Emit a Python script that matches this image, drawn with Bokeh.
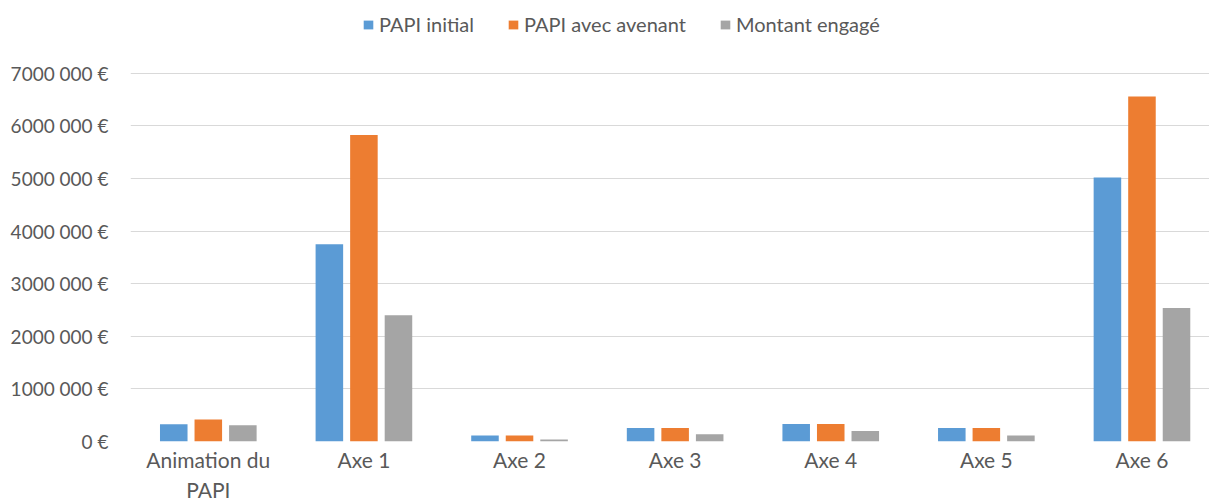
from bokeh.plotting import figure
from bokeh.models import Range1d, FixedTicker, Legend, LegendItem, ColumnDataSource
from bokeh.transform import dodge
from bokeh.embed import file_html
from bokeh.resources import INLINE

categories = ["Animation du\nPAPI", "Axe 1", "Axe 2", "Axe 3", "Axe 4", "Axe 5", "Axe 6"]
papi_initial = [330000, 3750000, 115000, 256000, 333000, 256000, 5020000]
papi_avenant = [417000, 5830000, 115000, 256000, 333000, 256000, 6560000]
montant_engage = [308000, 2400000, 40000, 140000, 200000, 115000, 2540000]
series_names = ["PAPI initial", "PAPI avec avenant", "Montant engagé"]
colors = ["#5B9BD5", "#ED7D31", "#A5A5A5"]
y_ticks = [0, 1000000, 2000000, 3000000, 4000000, 5000000, 6000000, 7000000]
y_labels = ["0 €", "1000 000 €", "2000 000 €", "3000 000 €", "4000 000 €",
            "5000 000 €", "6000 000 €", "7000 000 €"]

FONT = "Lato"
TXT = "#595959"

idx = list(range(len(categories)))
src = ColumnDataSource(dict(x=idx, a=papi_initial, b=papi_avenant, c=montant_engage))

p = figure(width=1209, height=504, output_backend="svg", toolbar_location=None,
           x_range=Range1d(-0.5, 6.434), y_range=Range1d(0, 8385000),
           min_border_left=130, min_border_right=0, min_border_top=0,
           min_border_bottom=60)
p.outline_line_color = None
p.background_fill_color = "white"
p.border_fill_color = "white"

renderers = []
for col, off, color in zip(["a", "b", "c"], [-0.222, 0.0, 0.222], colors):
    r = p.vbar(x=dodge("x", off), top=col, width=0.177, source=src,
               fill_color=color, line_color=None)
    renderers.append(r)

# axes
p.xaxis.ticker = FixedTicker(ticks=idx)
p.xaxis.major_label_overrides = {i: c for i, c in zip(idx, categories)}
p.yaxis.ticker = FixedTicker(ticks=y_ticks)
p.yaxis.major_label_overrides = {t: l for t, l in zip(y_ticks, y_labels)}
for ax in (p.xaxis, p.yaxis):
    ax.axis_line_color = None
    ax.major_tick_line_color = None
    ax.minor_tick_line_color = None
    ax.major_tick_out = 0
    ax.major_tick_in = 0
    ax.minor_tick_out = 0
    ax.minor_tick_in = 0
    ax.major_label_text_font = FONT
    ax.major_label_text_color = TXT
p.yaxis.major_label_text_font_size = "19px"
p.xaxis.major_label_text_font_size = "21px"
p.xaxis.major_label_text_line_height = 1.2
p.yaxis.major_label_standoff = 22
p.xaxis.major_label_standoff = 5

p.xgrid.grid_line_color = None
p.ygrid.grid_line_color = "#D9D9D9"
p.ygrid.grid_line_width = 1

legend = Legend(items=[LegendItem(label=n, renderers=[r]) for n, r in zip(series_names, renderers)],
                orientation="horizontal", location=(232, 405))
legend.glyph_width = 12
legend.glyph_height = 11
legend.label_text_font = FONT
legend.label_text_font_size = "20px"
legend.label_text_color = TXT
legend.label_standoff = 5
legend.spacing = 33
legend.padding = 0
legend.margin = 0
legend.border_line_color = None
legend.background_fill_alpha = 0
p.add_layout(legend, "center")

open("out.html", "w").write(file_html(p, INLINE))
